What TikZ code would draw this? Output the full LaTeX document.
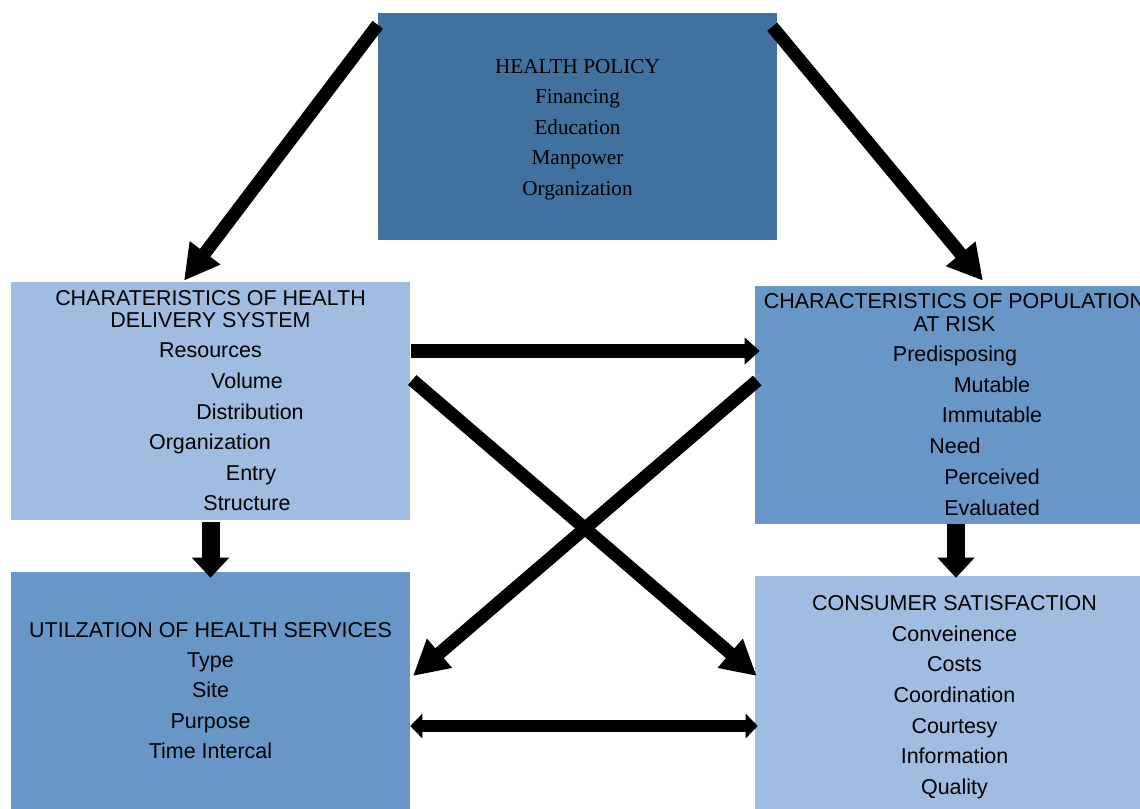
\documentclass[tikz,border=0pt]{standalone}
\usepackage{fontspec}
\setmainfont{Liberation Serif}
\setsansfont{Liberation Sans}
\usetikzlibrary{arrows.meta,calc}
\definecolor{policyblue}{RGB}{65,113,158}
\definecolor{midblue}{RGB}{104,150,199}
\definecolor{paleblue}{RGB}{160,188,224}

\begin{document}
\begin{tikzpicture}[x=0.75pt,y=-0.75pt,
        box/.style={draw=none,inner sep=0pt,minimum width=299.25pt,minimum height=178.5pt},
        itemtext/.style={anchor=base,inner sep=0pt,font=\sffamily\fontsize{16.1}{18}\selectfont},
        serifitem/.style={itemtext,font=\rmfamily\fontsize{15.9}{18}\selectfont},
        bigarrow/.style={line width=9.75pt,-{Triangle[length=26.25pt,width=27pt]}},
        flatarrow/.style={line width=10.5pt,-{Triangle[length=11.25pt,width=19.5pt]}},
        botharrow/.style={line width=9pt,{Triangle[length=9pt,width=18pt]}-{Triangle[length=9pt,width=18pt]}},
        downarrow/.style={line width=13.5pt,-{Triangle[length=15pt,width=27pt]}}]
        \useasboundingbox (0,0) rectangle (1140,808);

        % boxes
        \node[box,fill=policyblue,minimum height=170.6pt] (policy) at (577.5,126.75) {};
        \node[box,fill=paleblue] (delivery) at (210.5,401) {};
        \node[box,fill=midblue] (population) at (954.5,405) {};
        \node[box,fill=midblue] (utilization) at (210.5,691) {};
        \node[box,fill=paleblue] (satisfaction) at (954.5,695) {};

        % texts
        \foreach \x/\y/\t [count=\i] in {577.5/73/HEALTH POLICY, 577.5/103.5/Financing,
                577.5/134/Education, 577.5/164.5/Manpower, 577.5/195/Organization}
            \node[serifitem] (policy-\i) at (\x,\y) {\t};

        \foreach \x/\y/\t [count=\i] in {210.5/305/CHARATERISTICS OF HEALTH,
                210.5/327.5/DELIVERY SYSTEM, 210.5/357.5/Resources, 247/388/Volume,
                250/419/Distribution, 210/449.5/Organization, 251/480/Entry, 247/510.5/Structure}
            \node[itemtext] (delivery-\i) at (\x,\y) {\t};

        \foreach \x/\y/\t [count=\i] in {954.5/308.5/CHARACTERISTICS OF POPULATION,
                954.5/331/AT RISK, 955/361.5/Predisposing, 992/392/Mutable,
                992/422.5/Immutable, 955/453/Need, 992/484/Perceived, 992/515/Evaluated}
            \node[itemtext] (population-\i) at (\x,\y) {\t};

        \foreach \x/\y/\t [count=\i] in {210.5/637/UTILZATION OF HEALTH SERVICES,
                210.5/667/Type, 210.5/697.5/Site, 210.5/728/Purpose, 210.5/758.5/Time Intercal}
            \node[itemtext] (utilization-\i) at (\x,\y) {\t};

        \foreach \x/\y/\t [count=\i] in {954.5/610/CONSUMER SATISFACTION,
                954.5/641/Conveinence, 954.5/671/Costs, 954.5/702/Coordination,
                954.5/733/Courtesy, 954.5/763.5/Information, 954.5/794/Quality}
            \node[itemtext] (satisfaction-\i) at (\x,\y) {\t};

        % arrows
        \draw[bigarrow] ($(policy.north west)+(0,12)$) -- ($(delivery.north)+(-26.5,-1)$);
        \draw[bigarrow] ($(policy.north east)+(-5,14)$) -- ($(population.north)+(28.5,-5)$);

        \draw[flatarrow] ($(delivery.east)+(1,-50)$) -- ($(population.west)+(5,-54)$);
        \draw[bigarrow] ($(delivery.east)+(2,-21)$) -- ($(satisfaction.west)+(2,-19)$);
        \draw[bigarrow] ($(population.west)+(2.5,-24.5)$) -- ($(utilization.east)+(2.7,-15)$);
        \draw[botharrow] ($(utilization.east)+(0,35)$) -- ($(satisfaction.west)+(3,31)$);

        \draw[downarrow] ($(delivery.south)+(0,2)$) -- ($(utilization.north)+(0,6)$);
        \draw[downarrow] ($(population.south)+(1.5,0)$) -- ($(satisfaction.north)+(1.5,2)$);

    \end{tikzpicture}
\end{document}
